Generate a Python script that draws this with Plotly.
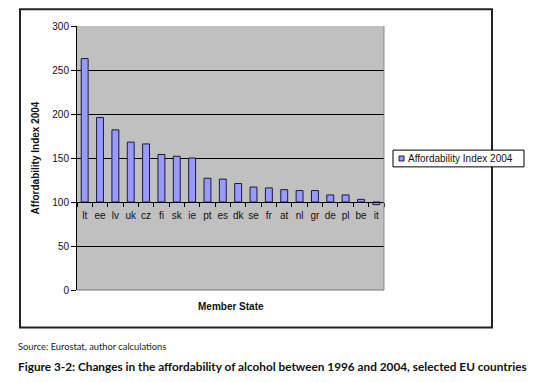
import plotly.graph_objects as go

countries = ["lt", "ee", "lv", "uk", "cz", "fi", "sk", "ie", "pt", "es",
             "dk", "se", "fr", "at", "nl", "gr", "de", "pl", "be", "it"]
index_2004 = [263, 196, 182, 168, 166, 154, 152, 150, 127, 126,
              121, 117, 116, 114, 113, 113, 108, 108, 103, 97]
baseline = 100
y_ticks = [0, 50, 100, 150, 200, 250, 300]
series_name = "Affordability Index 2004"

OFF = 8  # page body margin
W, H = 560 - OFF, 382 - OFF
L, R, T, B = 77 - OFF, 560 - 384, 22 - OFF, 382 - 290
pw, ph = W - L - R, H - T - B

def px_x(p):
    return (p - OFF - L) / pw

def px_y(p):
    return (H - B - (p - OFF)) / ph

bar_color = "#9999ff"
fig = go.Figure()
fig.add_trace(go.Bar(
    x=countries,
    y=[v - baseline for v in index_2004],
    base=baseline,
    name=series_name,
    marker=dict(color=bar_color, line=dict(color="#1a1a3a", width=1)),
    width=0.45,
))

ff = "Liberation Sans, Arial, sans-serif"
axis_font = dict(family=ff, size=10, color="#111")

fig.update_layout(
    width=W, height=H,
    margin=dict(l=L, r=R, t=T, b=B),
    paper_bgcolor="white",
    plot_bgcolor="#c0c0c0",
    showlegend=False,
    xaxis=dict(
        anchor="free", position=baseline / 300,
        showline=True, linecolor="black", linewidth=1,
        ticks="outside", tickson="boundaries", ticklen=4, tickcolor="black",
        showgrid=False, tickfont=axis_font, tickangle=0, ticklabelstandoff=4,
    ),
    yaxis=dict(
        range=[0, 300], tickvals=y_ticks,
        showline=True, linecolor="black", linewidth=1,
        ticks="outside", ticklen=5, tickcolor="black",
        showgrid=True, gridcolor="black", gridwidth=1,
        zeroline=False, tickfont=axis_font,
        title=dict(text="<b>" + series_name + "</b>", font=dict(family=ff, size=10, color="#111"), standoff=10),
    ),
    shapes=[
        dict(type="rect", xref="paper", yref="paper",
             x0=px_x(20), x1=px_x(492), y0=px_y(328), y1=px_y(5),
             line=dict(color="#222", width=2), layer="below"),
        dict(type="line", xref="paper", yref="paper",
             x0=1, x1=1, y0=0, y1=1, line=dict(color="#888", width=1)),
        dict(type="line", xref="paper", yref="paper",
             x0=0, x1=1, y0=0, y1=0, line=dict(color="#777", width=1)),
        # legend box
        dict(type="rect", xref="paper", yref="paper",
             x0=px_x(393), x1=px_x(524), y0=px_y(165), y1=px_y(148),
             line=dict(color="black", width=1), fillcolor="white"),
        dict(type="rect", xref="paper", yref="paper",
             x0=px_x(399), x1=px_x(404), y0=px_y(159), y1=px_y(154),
             line=dict(color="#1a1a3a", width=1), fillcolor=bar_color),
    ],
    annotations=[
        dict(text=series_name, xref="paper", yref="paper",
             x=px_x(406), y=px_y(156.5), xanchor="left", yanchor="middle", showarrow=False,
             font=dict(family=ff, size=10, color="#111")),
        dict(text="<b>Member State</b>", xref="paper", yref="paper",
             x=0.5, y=px_y(307), xanchor="center", yanchor="middle", showarrow=False,
             font=dict(family=ff, size=10, color="#111")),
        dict(text="Source: Eurostat, author calculations", xref="paper", yref="paper",
             x=px_x(16), y=px_y(347), xanchor="left", yanchor="middle", showarrow=False,
             font=dict(family="Lato, sans-serif", size=9.3, color="#222")),
        dict(text="<b>Figure 3-2: Changes in the affordability of alcohol between 1996 and 2004, selected EU countries</b>",
             xref="paper", yref="paper",
             x=px_x(16), y=px_y(368), xanchor="left", yanchor="middle", showarrow=False,
             font=dict(family="Lato, sans-serif", size=11.8, color="#111")),
    ],
)

fig.write_html("out.html")
